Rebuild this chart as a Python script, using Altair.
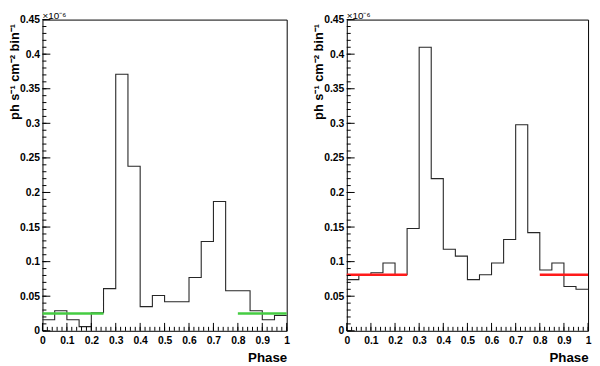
import altair as alt
import pandas as pd

# bin edges (phase) and binned fluxes (units of 1e-6 ph s^-1 cm^-2 bin^-1)
phase_edges = [0.0, 0.05, 0.1, 0.15, 0.2, 0.25, 0.3, 0.35, 0.4, 0.45, 0.5,
               0.55, 0.6, 0.65, 0.7, 0.75, 0.8, 0.85, 0.9, 0.95, 1.0]
left_flux = [0.016, 0.029, 0.016, 0.006, 0.026, 0.061, 0.371, 0.238, 0.035, 0.051,
             0.042, 0.042, 0.077, 0.129, 0.187, 0.058, 0.058, 0.029, 0.016, 0.022]
right_flux = [0.074, 0.081, 0.084, 0.098, 0.081, 0.148, 0.410, 0.220, 0.118, 0.108,
              0.074, 0.081, 0.098, 0.132, 0.298, 0.142, 0.088, 0.098, 0.064, 0.060]

# off-pulse background levels
bg_start = [0.0, 0.8]
bg_end = [0.25, 1.0]
left_bg = 0.025
right_bg = 0.081

x_major = [0, 0.1, 0.2, 0.3, 0.4, 0.5, 0.6, 0.7, 0.8, 0.9, 1.0]
x_minor = [round(0.02 * i, 2) for i in range(51)]
y_major = [0, 0.05, 0.1, 0.15, 0.2, 0.25, 0.3, 0.35, 0.4, 0.45]
y_minor = [round(0.01 * i, 2) for i in range(46)]

FONT = "Liberation Sans"


def panel(values, level, color, W, H):
    hist_df = pd.DataFrame({"phase": phase_edges, "flux": values + [values[-1]]})
    xs = alt.Scale(domain=[0, 1], nice=False, zero=False)
    ys = alt.Scale(domain=[0, 0.45], nice=False)
    x_axis = alt.Axis(
        values=x_major, format="~g", ticks=False, tickSize=0, grid=False, domain=False,
        labelFont=FONT, labelFontSize=10.5, labelFontWeight="bold", labelColor="black",
        labelPadding=5, labelFlush=False, labelOverlap=False,
        title="Phase", titleFont=FONT, titleFontSize=13.5, titleFontWeight="bold",
        titleColor="black", titleX=W, titleY=27, titleAlign="right",
        titleBaseline="middle")
    y_axis = alt.Axis(
        values=y_major, format="~g", ticks=False, tickSize=0, grid=False, domain=False,
        labelFont=FONT, labelFontSize=10.5, labelFontWeight="bold", labelColor="black",
        labelPadding=3, labelFlush=False, labelOverlap=False,
        title="ph s⁻¹ cm⁻² bin⁻¹", titleFont=FONT, titleFontSize=13,
        titleFontWeight="bold", titleColor="black", titleAngle=270,
        titleX=-28.5, titleY=4, titleAlign="right", titleBaseline="middle")

    def X(f):
        return alt.X(f, scale=xs, axis=x_axis, title="Phase")

    def Y(f):
        return alt.Y(f, scale=ys, axis=y_axis, title="ph s⁻¹ cm⁻² bin⁻¹")

    hist = alt.Chart(hist_df).mark_line(
        interpolate="step-after", color="#262626", strokeWidth=1.1
    ).encode(x=X("phase:Q"), y=Y("flux:Q"))
    bg_df = pd.DataFrame({"phase": bg_start, "phase2": bg_end, "flux": [level, level]})
    bg = alt.Chart(bg_df).mark_rule(color=color, strokeWidth=2.6).encode(
        x=X("phase:Q"), x2="phase2:Q", y=Y("flux:Q"))
    xmaj = alt.Chart(pd.DataFrame({"phase": x_major})).mark_rule(color="black").encode(
        x=X("phase:Q"), y=alt.value(H), y2=alt.value(H - 8))
    xmin = alt.Chart(pd.DataFrame({"phase": x_minor})).mark_rule(color="black").encode(
        x=X("phase:Q"), y=alt.value(H), y2=alt.value(H - 4))
    ymaj = alt.Chart(pd.DataFrame({"flux": y_major})).mark_rule(color="black").encode(
        y=Y("flux:Q"), x=alt.value(0), x2=alt.value(8))
    ymin = alt.Chart(pd.DataFrame({"flux": y_minor})).mark_rule(color="black").encode(
        y=Y("flux:Q"), x=alt.value(0), x2=alt.value(4))
    exp = alt.Chart(pd.DataFrame({"t": ["×10⁻⁶"]})).mark_text(
        align="left", baseline="middle", font=FONT, fontSize=10, color="black"
    ).encode(text="t:N", x=alt.value(0), y=alt.value(-3.5))
    return alt.layer(hist, bg, xmin, xmaj, ymin, ymaj, exp).properties(width=W, height=H)


left = panel(left_flux, left_bg, "#45cc42", 248, 316)
right = panel(right_flux, right_bg, "#ff1a1a", 245, 316)

chart = alt.hconcat(left, right, spacing=61, bounds="flush").properties(
    padding={"left": 0, "top": 0, "right": 0, "bottom": 0}, background="white"
).configure_view(stroke="black", strokeWidth=1)

chart.save("out.html", embed_options={"renderer": "svg", "actions": False})
